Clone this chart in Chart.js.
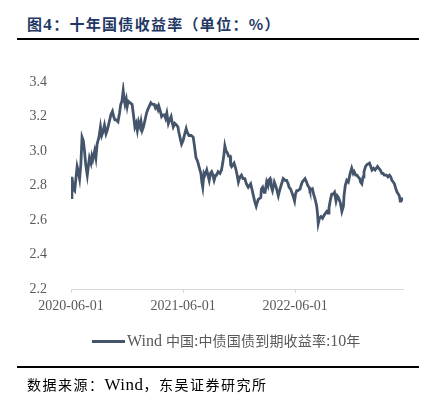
<!DOCTYPE html>
<html>
<head>
<meta charset="utf-8">
<script src="https://cdn.jsdelivr.net/npm/chart.js@4.4.1/dist/chart.umd.min.js"></script>
<style>
  html, body { margin: 0; padding: 0; background: #fff; }
  #wrap { position: relative; width: 438px; height: 394px; overflow: hidden; }
  #c { position: absolute; left: 0; top: 0; }
  .abs { position: absolute; white-space: nowrap; }
  #title { left: 27px; top: 14px; font: bold 15px "Noto Sans CJK SC", sans-serif; color: #1F3864; letter-spacing: 1.3px; line-height: 20px; }
  #title .lat { font-family: "Liberation Serif", serif; font-size: 17px; }
  .rule { position: absolute; left: 17px; width: 402px; height: 2px; background: #000; }
  #legend { left: 92px; top: 330px; height: 18px; line-height: 18px; color: #595959; font: 14px "Noto Sans CJK SC", sans-serif; letter-spacing: 0.2px; }
  #legend .sw { display: inline-block; width: 33px; height: 3px; background: #44546A; vertical-align: middle; margin-right: 2px; position: relative; top: -1px; }
  #legend .lat { font-family: "Liberation Serif", serif; font-size: 16px; letter-spacing: 0; }
  #source { left: 27px; top: 374px; font: 14px "Noto Sans CJK SC", sans-serif; color: #000; line-height: 20px; letter-spacing: 1.5px; }
  #source .lat { font-family: "Liberation Serif", serif; font-size: 17px; letter-spacing: 0.5px; }
</style>
</head>
<body>
<div id="wrap">
  <div id="title" class="abs">图<span class="lat">4</span>：十年国债收益率（单位：%）</div>
  <div class="rule" style="top:38px"></div>
  <canvas id="c" width="438" height="394"></canvas>
  <div id="legend" class="abs"><span class="sw"></span><span class="lat">Wind </span>中国:中债国债到期收益率:<span class="lat">10</span>年</div>
  <div class="rule" style="top:366px"></div>
  <div id="source" class="abs">数据来源：<span class="lat">Wind</span>，东吴证券研究所</div>
</div>
<script>
const seriesName = "Wind 中国:中债国债到期收益率:10年";
const startDate = "2020-06-01";
const xTickLabels = ["2020-06-01", "2021-06-01", "2022-06-01"];
const yTickValues = [2.2, 2.4, 2.6, 2.8, 3.0, 3.2, 3.4];

const dates = [
"2020-06-01","2020-06-04","2020-06-09","2020-06-13","2020-06-17","2020-06-21","2020-06-25","2020-06-29",
"2020-07-03","2020-07-07","2020-07-11","2020-07-15","2020-07-19","2020-07-24","2020-07-28","2020-07-31",
"2020-08-05","2020-08-08","2020-08-11","2020-08-17","2020-08-21","2020-08-25","2020-08-31",
"2020-09-05","2020-09-09","2020-09-13","2020-09-18","2020-09-23","2020-09-27",
"2020-10-01","2020-10-05","2020-10-09","2020-10-14","2020-10-18","2020-10-22","2020-10-27",
"2020-11-01","2020-11-06","2020-11-10","2020-11-14","2020-11-18","2020-11-21","2020-11-24","2020-11-28",
"2020-12-01","2020-12-04","2020-12-10","2020-12-17","2020-12-22","2020-12-26","2020-12-30",
"2021-01-03","2021-01-07","2021-01-12","2021-01-15","2021-01-19","2021-01-23","2021-01-28",
"2021-02-02","2021-02-06","2021-02-11","2021-02-16","2021-02-21","2021-02-27",
"2021-03-03","2021-03-07","2021-03-11","2021-03-14","2021-03-19","2021-03-23","2021-03-27",
"2021-04-01","2021-04-05","2021-04-09","2021-04-14","2021-04-18","2021-04-23","2021-04-26","2021-04-30",
"2021-05-05","2021-05-11","2021-05-15","2021-05-18","2021-05-23","2021-05-27",
"2021-06-01","2021-06-05","2021-06-11","2021-06-14","2021-06-20","2021-06-27",
"2021-07-04","2021-07-08","2021-07-13","2021-07-16","2021-07-20","2021-07-24","2021-07-29",
"2021-08-01","2021-08-04","2021-08-08","2021-08-11","2021-08-17","2021-08-21","2021-08-25","2021-08-29",
"2021-09-02","2021-09-06","2021-09-10","2021-09-15","2021-09-18","2021-09-23","2021-09-29",
"2021-10-04","2021-10-08","2021-10-12","2021-10-15","2021-10-19","2021-10-23","2021-10-27",
"2021-11-01","2021-11-03","2021-11-06","2021-11-14","2021-11-19","2021-11-23","2021-11-28",
"2021-12-03","2021-12-08","2021-12-13","2021-12-19","2021-12-24","2021-12-30",
"2022-01-07","2022-01-11","2022-01-16","2022-01-20","2022-01-25","2022-01-28",
"2022-02-01","2022-02-09","2022-02-11","2022-02-15","2022-02-20","2022-02-23","2022-02-28",
"2022-03-04","2022-03-06","2022-03-11","2022-03-14","2022-03-19","2022-03-25","2022-03-31",
"2022-04-07","2022-04-11","2022-04-16","2022-04-23","2022-04-29",
"2022-05-04","2022-05-09","2022-05-12","2022-05-17","2022-05-21","2022-05-25","2022-05-30",
"2022-06-02","2022-06-06","2022-06-10","2022-06-17","2022-06-20","2022-06-24",
"2022-07-03","2022-07-08","2022-07-12","2022-07-16","2022-07-19","2022-07-27","2022-07-31",
"2022-08-05","2022-08-10","2022-08-13","2022-08-15","2022-08-19","2022-08-24","2022-08-29",
"2022-09-04","2022-09-12","2022-09-16","2022-09-19","2022-09-24","2022-09-28",
"2022-10-03","2022-10-07","2022-10-12","2022-10-16","2022-10-20","2022-10-26","2022-10-31",
"2022-11-05","2022-11-07","2022-11-11","2022-11-16","2022-11-21","2022-11-27",
"2022-12-02","2022-12-07","2022-12-10","2022-12-15","2022-12-19","2022-12-23","2022-12-28","2022-12-31",
"2023-01-04","2023-01-08","2023-01-11","2023-01-16","2023-01-20","2023-01-29",
"2023-02-02","2023-02-06","2023-02-11","2023-02-16","2023-02-24","2023-02-28",
"2023-03-05","2023-03-10","2023-03-14","2023-03-18","2023-03-25","2023-03-30",
"2023-04-04","2023-04-08","2023-04-12","2023-04-16","2023-04-20","2023-04-25","2023-04-29",
"2023-05-03","2023-05-06","2023-05-09","2023-05-12","2023-05-15","2023-05-18"
];

const yields = [
2.73,2.85,2.78,2.77,2.84,2.91,2.88,2.84,
2.92,3.08,3.06,3.00,2.92,2.86,2.92,2.96,
2.93,2.97,2.95,3.00,2.96,3.04,3.08,
3.14,3.09,3.11,3.15,3.10,3.12,
3.15,3.18,3.21,3.23,3.20,3.18,3.18,
3.17,3.22,3.27,3.29,3.35,3.30,3.27,3.30,
3.26,3.29,3.28,3.27,3.20,3.14,3.16,
3.12,3.17,3.14,3.17,3.12,3.14,3.18,
3.22,3.24,3.26,3.28,3.27,3.27,
3.25,3.26,3.24,3.26,3.23,3.20,3.21,
3.21,3.19,3.22,3.16,3.18,3.20,3.17,3.14,
3.16,3.15,3.14,3.11,3.07,3.04,
3.06,3.09,3.13,3.11,3.09,3.09,
3.08,3.03,2.96,2.95,2.93,2.90,2.87,
2.82,2.79,2.87,2.86,2.89,2.86,2.83,2.87,
2.88,2.86,2.83,2.86,2.86,2.88,2.87,
2.89,2.93,2.98,3.03,3.00,2.99,2.97,
2.97,2.92,2.91,2.93,2.90,2.87,2.82,
2.85,2.86,2.84,2.84,2.81,2.79,
2.81,2.78,2.74,2.71,2.68,2.70,
2.72,2.73,2.78,2.79,2.76,2.76,2.82,
2.80,2.83,2.84,2.80,2.77,2.82,2.79,
2.74,2.77,2.80,2.84,2.83,
2.83,2.81,2.79,2.78,2.76,2.74,2.71,
2.75,2.77,2.77,2.78,2.80,2.82,
2.84,2.82,2.80,2.79,2.77,2.78,2.75,
2.72,2.68,2.63,2.58,2.61,2.62,2.61,
2.63,2.65,2.64,2.67,2.72,2.75,
2.75,2.76,2.71,2.74,2.73,2.70,2.65,
2.68,2.74,2.80,2.83,2.82,2.87,
2.90,2.87,2.88,2.86,2.86,2.85,2.84,2.82,
2.81,2.85,2.88,2.91,2.92,2.93,
2.91,2.89,2.90,2.89,2.91,2.90,
2.89,2.87,2.87,2.86,2.86,2.85,
2.86,2.85,2.83,2.82,2.81,2.78,2.76,
2.75,2.74,2.71,2.71,2.72,2.73
];

const DAY = 86400000;
function dayIndex(s) {
  const [y, m, d] = s.split("-").map(Number);
  const [y0, m0, d0] = startDate.split("-").map(Number);
  return Math.round((Date.UTC(y, m - 1, d) - Date.UTC(y0, m0 - 1, d0)) / DAY);
}
const points = dates.map((d, i) => ({ x: dayIndex(d), y: yields[i] }));
const tickPositions = xTickLabels.map(dayIndex);
const labelByPos = {};
tickPositions.forEach((p, i) => { labelByPos[p] = xTickLabels[i]; });

const tickFont = { family: "'Liberation Serif', 'Times New Roman', serif", size: 14 };

new Chart(document.getElementById("c"), {
  type: "line",
  data: {
    datasets: [{
      label: seriesName,
      data: points,
      borderColor: "#44546A",
      borderWidth: 2.8,
      pointRadius: 0,
      tension: 0,
      fill: false
    }]
  },
  options: {
    responsive: false,
    animation: false,
    layout: { padding: { left: 21, right: 35, top: 82, bottom: 75 } },
    plugins: { legend: { display: false }, tooltip: { enabled: false } },
    scales: {
      x: {
        type: "linear",
        min: 0,
        max: dayIndex(dates[dates.length - 1]),
        afterBuildTicks: (scale) => { scale.ticks = tickPositions.map(v => ({ value: v })); },
        afterFit: (scale) => { scale.height = 30; },
        ticks: {
          callback: (v) => labelByPos[v] || "",
          font: tickFont,
          color: "#595959",
          padding: 5,
          maxRotation: 0,
          autoSkip: false
        },
        grid: { display: true, drawOnChartArea: false, drawTicks: true, tickLength: 4, color: "#D9D9D9" },
        border: { display: true, color: "#D9D9D9", width: 1 }
      },
      y: {
        min: 2.2,
        max: 3.4,
        afterBuildTicks: (scale) => { scale.ticks = yTickValues.map(v => ({ value: v })); },
        afterFit: (scale) => { scale.width = 50; },
        ticks: {
          callback: (v) => Number(v).toFixed(1),
          font: tickFont,
          color: "#595959",
          padding: 16
        },
        grid: { display: false },
        border: { display: false }
      }
    }
  }
});
</script>
</body>
</html>
